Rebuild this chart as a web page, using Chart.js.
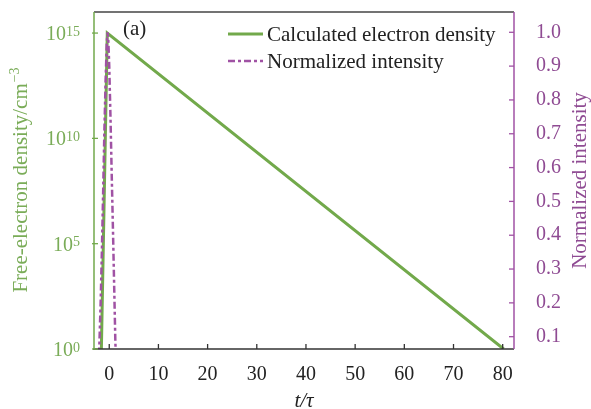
<!DOCTYPE html>
<html>
<head>
<meta charset="utf-8">
<script src="https://cdn.jsdelivr.net/npm/chart.js@4"></script>
<style>
  html, body { margin: 0; padding: 0; background: #ffffff; }
  #wrap { width: 591px; height: 409px; }
</style>
</head>
<body>
<div id="wrap"><canvas id="c" width="591" height="409"></canvas></div>
<script>
// ---- data ----
const densityTime = [-1.6, -0.4, 80.2];
const densityValues = [1, 1e15, 1];

const pulseTime = [-2.3, -2.0, -1.75, -1.5, -1.25, -1.0, -0.75, -0.5, -0.35, -0.2, 0.0, 0.25, 0.5, 0.75, 1.0, 1.25, 1.5];
const pulseValues = [0.0, 0.08, 0.2, 0.35, 0.52, 0.7, 0.85, 0.97, 1.0, 0.98, 0.9, 0.75, 0.58, 0.42, 0.25, 0.08, 0.0];

const xTickValues = [0, 10, 20, 30, 40, 50, 60, 70, 80];
const leftTickValues = [1, 1e5, 1e10, 1e15];
const leftTickExponents = ['0', '5', '10', '15'];
const rightTickValues = [0.1, 0.2, 0.3, 0.4, 0.5, 0.6, 0.7, 0.8, 0.9, 1.0];

const seriesLabels = ['Calculated electron density', 'Normalized intensity'];
const leftTitle = 'Free-electron density/cm';
const leftTitleSup = '\u22123';
const rightTitle = 'Normalized intensity';
const xTitle = 't/\u03c4';
const panelLabel = '(a)';

// ---- styles ----
const GREEN = '#72a94b';
const GREEN_TEXT = '#7aac58';
const PURPLE = '#a052a4';
const PURPLE_TEXT = '#8f4b93';
const DARK = '#333333';
const SERIF = '"Liberation Serif", "Times New Roman", serif';
const PULSE_DASH = [7, 3, 3, 3];

const densityData = densityTime.map((t, i) => ({ x: t, y: densityValues[i] }));
const pulseData = pulseTime.map((t, i) => ({ x: t, y: pulseValues[i] }));

function noScalePadding(s) {
  s.paddingTop = 0; s.paddingBottom = 0; s.paddingLeft = 0; s.paddingRight = 0;
}

const decorPlugin = {
  id: 'decor',
  afterDraw(chart) {
    const ctx = chart.ctx;
    const ca = chart.chartArea;
    const sx = chart.scales.x, sy = chart.scales.y, sy2 = chart.scales.y2;
    ctx.save();

    // frame
    ctx.lineWidth = 1.5;
    ctx.strokeStyle = '#444444';
    ctx.beginPath(); ctx.moveTo(ca.left, ca.top); ctx.lineTo(ca.right, ca.top); ctx.stroke();
    ctx.strokeStyle = DARK;
    ctx.beginPath(); ctx.moveTo(ca.left - 1, ca.bottom); ctx.lineTo(ca.right, ca.bottom); ctx.stroke();
    ctx.strokeStyle = GREEN;
    ctx.beginPath(); ctx.moveTo(ca.left, ca.top); ctx.lineTo(ca.left, ca.bottom); ctx.stroke();
    ctx.strokeStyle = PURPLE;
    ctx.beginPath(); ctx.moveTo(ca.right, ca.top); ctx.lineTo(ca.right, ca.bottom); ctx.stroke();

    // inward ticks
    ctx.lineWidth = 1.3;
    ctx.strokeStyle = DARK;
    xTickValues.forEach(v => {
      const px = sx.getPixelForValue(v);
      ctx.beginPath(); ctx.moveTo(px, ca.bottom); ctx.lineTo(px, ca.bottom - 5); ctx.stroke();
    });
    ctx.strokeStyle = GREEN;
    leftTickValues.forEach(v => {
      const py = sy.getPixelForValue(v);
      ctx.beginPath(); ctx.moveTo(ca.left - 2, py); ctx.lineTo(ca.left + 4, py); ctx.stroke();
    });
    ctx.strokeStyle = PURPLE;
    rightTickValues.forEach(v => {
      const py = sy2.getPixelForValue(v);
      ctx.beginPath(); ctx.moveTo(ca.right, py); ctx.lineTo(ca.right - 5, py); ctx.stroke();
    });

    // left tick labels with superscripts
    ctx.fillStyle = GREEN_TEXT;
    ctx.textBaseline = 'alphabetic';
    ctx.textAlign = 'left';
    const baseFont = '20px ' + SERIF, supFont = '14px ' + SERIF;
    leftTickValues.forEach((v, i) => {
      const py = sy.getPixelForValue(v);
      ctx.font = supFont;
      const ew = ctx.measureText(leftTickExponents[i]).width;
      ctx.font = baseFont;
      const bw = ctx.measureText('10').width;
      const right = 80;
      ctx.fillText('10', right - ew - bw, py + 7);
      ctx.font = supFont;
      ctx.fillText(leftTickExponents[i], right - ew, py + 2.5);
    });

    // left title (rotated, with superscript)
    ctx.save();
    ctx.translate(27, (ca.top + ca.bottom) / 2);
    ctx.rotate(-Math.PI / 2);
    ctx.font = '21px ' + SERIF;
    const mw = ctx.measureText(leftTitle).width;
    ctx.font = '14px ' + SERIF;
    const sw = ctx.measureText(leftTitleSup).width;
    const start = -(mw + sw) / 2;
    ctx.fillStyle = GREEN_TEXT;
    ctx.font = '21px ' + SERIF;
    ctx.fillText(leftTitle, start, 0);
    ctx.font = '14px ' + SERIF;
    ctx.fillText(leftTitleSup, start + mw + 1, -8);
    ctx.restore();

    // right title (rotated, reading upward)
    ctx.save();
    ctx.translate(586, (ca.top + ca.bottom) / 2);
    ctx.rotate(-Math.PI / 2);
    ctx.font = '21px ' + SERIF;
    ctx.fillStyle = PURPLE_TEXT;
    ctx.textAlign = 'center';
    ctx.fillText(rightTitle, 0, 0);
    ctx.restore();

    // legend
    const ds = chart.data.datasets;
    ctx.font = '21px ' + SERIF;
    ctx.fillStyle = '#222222';
    ctx.textAlign = 'left';
    ctx.textBaseline = 'middle';
    const legendRows = [34, 61];
    ds.forEach((d, i) => {
      const y = legendRows[i];
      ctx.strokeStyle = d.borderColor;
      ctx.lineWidth = d.borderWidth;
      ctx.setLineDash(d.borderDash || []);
      ctx.beginPath(); ctx.moveTo(228, y); ctx.lineTo(263, y); ctx.stroke();
      ctx.setLineDash([]);
      ctx.fillText(d.label, 267, y + 1);
    });

    // panel label
    ctx.fillText(panelLabel, 123, 29);

    ctx.restore();
  }
};

new Chart(document.getElementById('c'), {
  type: 'line',
  data: {
    datasets: [
      {
        label: seriesLabels[0],
        data: densityData,
        yAxisID: 'y',
        order: 1,
        borderColor: GREEN,
        borderWidth: 3,
        pointRadius: 0,
        tension: 0,
        fill: false
      },
      {
        label: seriesLabels[1],
        data: pulseData,
        yAxisID: 'y2',
        order: 0,
        borderColor: PURPLE,
        borderWidth: 2.5,
        borderDash: PULSE_DASH,
        pointRadius: 0,
        tension: 0,
        fill: false
      }
    ]
  },
  options: {
    responsive: false,
    animation: false,
    devicePixelRatio: 1,
    layout: { padding: { top: 12, left: 0, right: 0, bottom: 0 } },
    plugins: { legend: { display: false }, tooltip: { enabled: false } },
    scales: {
      x: {
        type: 'linear',
        min: -3.1,
        max: 82.3,
        grid: { display: false },
        border: { display: false },
        afterBuildTicks: s => { s.ticks = xTickValues.map(v => ({ value: v })); },
        afterFit: s => { s.height = 60; noScalePadding(s); },
        ticks: {
          color: '#222222',
          font: { family: SERIF, size: 20 },
          padding: 6,
          maxRotation: 0,
          autoSkip: false
        },
        title: {
          display: true,
          text: xTitle,
          color: '#222222',
          font: { family: SERIF, size: 21, style: 'italic', lineHeight: 0.7 },
          padding: { top: 0, bottom: 0 }
        }
      },
      y: {
        type: 'logarithmic',
        position: 'left',
        min: 1,
        max: 1e16,
        grid: { display: false },
        border: { display: false },
        afterBuildTicks: s => { s.ticks = leftTickValues.map(v => ({ value: v })); },
        afterFit: s => { s.width = 94; noScalePadding(s); },
        ticks: { display: false }
      },
      y2: {
        type: 'linear',
        position: 'right',
        min: 0.0636,
        max: 1.06,
        grid: { display: false },
        border: { display: false },
        afterBuildTicks: s => { s.ticks = rightTickValues.map(v => ({ value: v })); },
        afterFit: s => { s.width = 77; noScalePadding(s); },
        ticks: {
          color: PURPLE_TEXT,
          font: { family: SERIF, size: 20 },
          padding: 14,
          callback: v => Number(v).toFixed(1)
        }
      }
    }
  },
  plugins: [decorPlugin]
});
</script>
</body>
</html>
